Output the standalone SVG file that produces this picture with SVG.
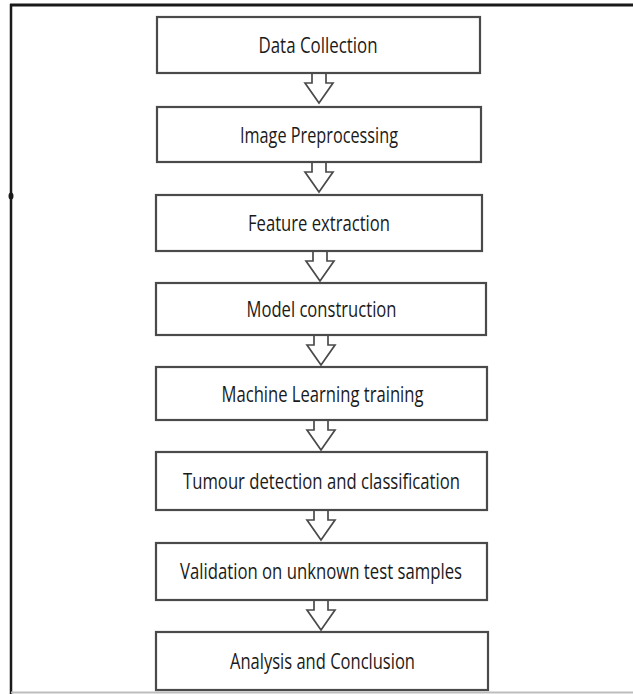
<svg xmlns="http://www.w3.org/2000/svg" width="633" height="694" viewBox="0 0 633 694">
<style>
.box{fill:#fff;stroke:#4a4a4a;stroke-width:2.2}
.arr{fill:#fff;stroke:#4a4a4a;stroke-width:1.7;stroke-linejoin:miter}
.lbl{font-family:"Open Sans","Liberation Sans",sans-serif;font-size:22px;fill:#1a1a1a;text-anchor:middle}
</style>
<rect width="633" height="694" fill="#fff"/>
<g id="frame">
<line x1="10" y1="5" x2="633" y2="5" stroke="#1a1a1a" stroke-width="3"/>
<line x1="11" y1="4" x2="11" y2="694" stroke="#1a1a1a" stroke-width="2.5"/>
<line x1="11" y1="692.5" x2="633" y2="692.5" stroke="#bdbdbd" stroke-width="2"/>
<ellipse cx="11" cy="196" rx="2.5" ry="3.5" fill="#1a1a1a"/>
</g>
<g id="connectors">
<path class="arr" d="M312,73 V83 H305 L319,103 L333,83 H326 V73"/>
<path class="arr" d="M312,162 V172 H305 L319,192 L333,172 H326 V162"/>
<path class="arr" d="M313,251 V261 H306 L320,281 L334,261 H327 V251"/>
<path class="arr" d="M314,335 V345 H307 L321,365 L335,345 H328 V335"/>
<path class="arr" d="M314,420 V430 H307 L321,450 L335,430 H328 V420"/>
<path class="arr" d="M314,510 V520 H307 L321,540 L335,520 H328 V510"/>
<path class="arr" d="M314,600 V610 H307 L321,630 L335,610 H328 V600"/>
</g>
<g id="n1"><rect class="box" x="157" y="17" width="323" height="56"/><text class="lbl" x="318" y="53" textLength="119" lengthAdjust="spacingAndGlyphs">Data Collection</text></g>
<g id="n2"><rect class="box" x="157" y="107" width="324" height="55"/><text class="lbl" x="319" y="143" textLength="158" lengthAdjust="spacingAndGlyphs">Image Preprocessing</text></g>
<g id="n3"><rect class="box" x="156" y="195" width="326" height="56"/><text class="lbl" x="319" y="231" textLength="142" lengthAdjust="spacingAndGlyphs">Feature extraction</text></g>
<g id="n4"><rect class="box" x="156" y="283" width="330" height="52"/><text class="lbl" x="321.5" y="317" textLength="150" lengthAdjust="spacingAndGlyphs">Model construction</text></g>
<g id="n5"><rect class="box" x="156" y="367" width="331" height="53"/><text class="lbl" x="322.5" y="402" textLength="202" lengthAdjust="spacingAndGlyphs">Machine Learning training</text></g>
<g id="n6"><rect class="box" x="156" y="452" width="331" height="58"/><text class="lbl" x="321.5" y="489" textLength="277" lengthAdjust="spacingAndGlyphs">Tumour detection and classification</text></g>
<g id="n7"><rect class="box" x="156" y="543" width="331" height="57"/><text class="lbl" x="321" y="579" textLength="282" lengthAdjust="spacingAndGlyphs">Validation on unknown test samples</text></g>
<g id="n8"><rect class="box" x="156" y="632" width="332" height="58"/><text class="lbl" x="322.5" y="669" textLength="185" lengthAdjust="spacingAndGlyphs">Analysis and Conclusion</text></g>
</svg>
